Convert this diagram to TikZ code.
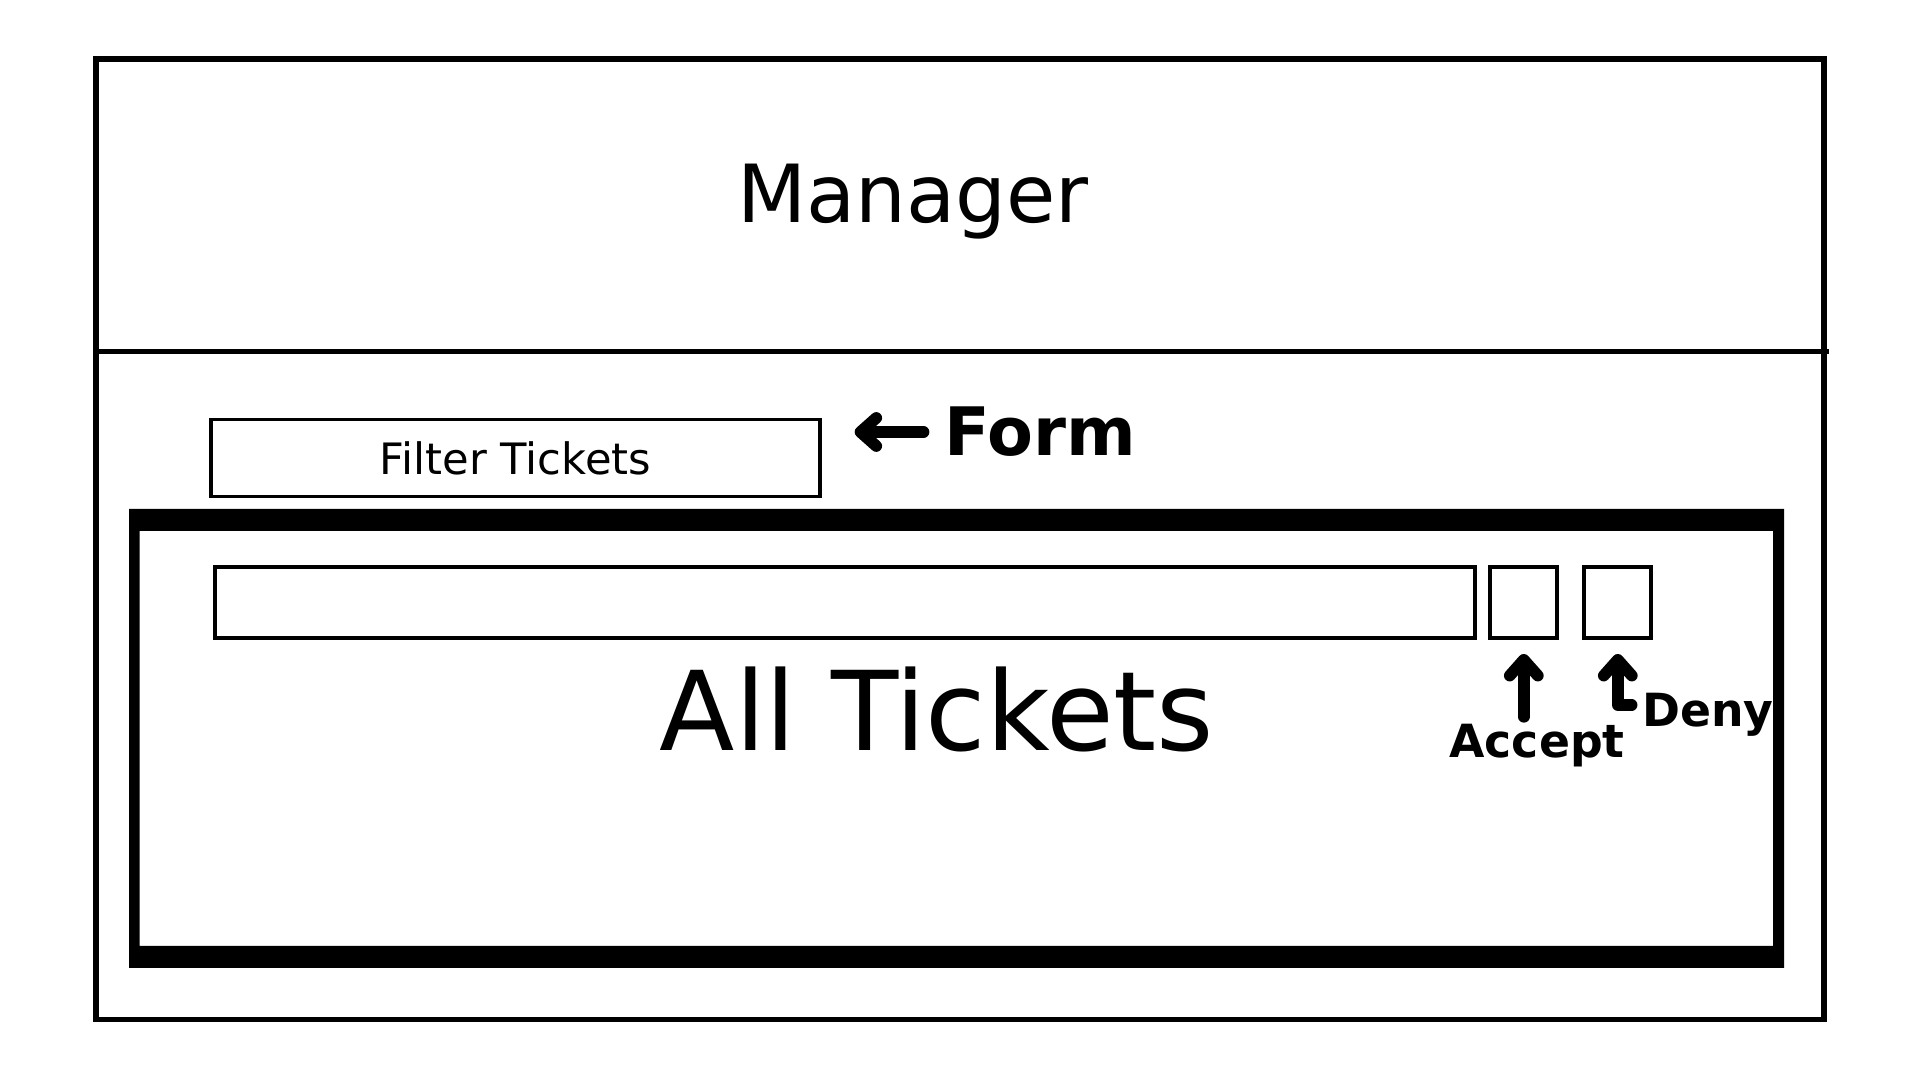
\documentclass[tikz,border=0pt]{standalone}
\usepackage{fontspec}
\setmainfont{DejaVu Sans}
\usetikzlibrary{arrows.meta}
\usetikzlibrary{calc}

\begin{document}
\begin{tikzpicture}[x=0.01cm, y=-0.01cm]

	\tikzset{mybox/.style={draw, black, line width=1.1pt, inner sep=0pt}}
	\tikzset{myhandarrow/.style={-{Straight Barb[round, length=4.5pt, width=8pt]}, black, line width=3.3pt, line cap=round, line join=round}}
	\tikzset{myhand/.style={inner sep=0pt, font=\bfseries\fontsize{13}{13}\selectfont}}

	\useasboundingbox (0,0) rectangle (1920,1080);

	% outer frame and header line
	\draw[line width=1.7pt] (96,59.5) rectangle (1824,1019.5);
	\draw[line width=1.45pt] (96,351.5) -- (1829,351.5);

	\node[anchor=base, font=\fontsize{22.8}{22.8}\selectfont] (title) at (913,223) {Manager};

	% filter form
	\node[mybox, minimum width=6.08cm, minimum height=0.77cm] (filter) at (515.5,458)
		{\fontsize{12.3}{12.3}\selectfont Filter Tickets};

	% all tickets panel
	\fill[black, even odd rule]
	(129,509) rectangle (1784,968)
	(139.5,531) rectangle (1773,946);

	\node[mybox, minimum width=12.6cm, minimum height=0.71cm] (bar) at (845,602.5) {};
	\node[mybox, minimum width=0.67cm, minimum height=0.71cm] (acceptbox) at (1523.8,602.5) {};
	\node[mybox, minimum width=0.67cm, minimum height=0.71cm] (denybox) at (1617.8,602.5) {};

	\node[anchor=base, font=\fontsize{31.3}{31.3}\selectfont] (all) at (937,750.5) {All Tickets};

	% handwritten notes
	\node[myhand, font=\bfseries\fontsize{19}{19}\selectfont] (form) at (1040,432) {Form};
	\node[myhand] (accept) at (1537,746) {Accept};
	\node[myhand] (deny) at (1708,715) {Deny};

	\draw[myhandarrow, shorten <=5.7pt, shorten >=9.4pt] (form.west) -- (form.west -| filter.east);
	\draw[myhandarrow, shorten <=2pt, shorten >=4pt] (acceptbox.south |- accept.north) -- (acceptbox.south);
	\draw[myhandarrow, shorten >=4pt] ($(deny.west)+(-10,-10)$) -| (denybox.south);

\end{tikzpicture}
\end{document}
